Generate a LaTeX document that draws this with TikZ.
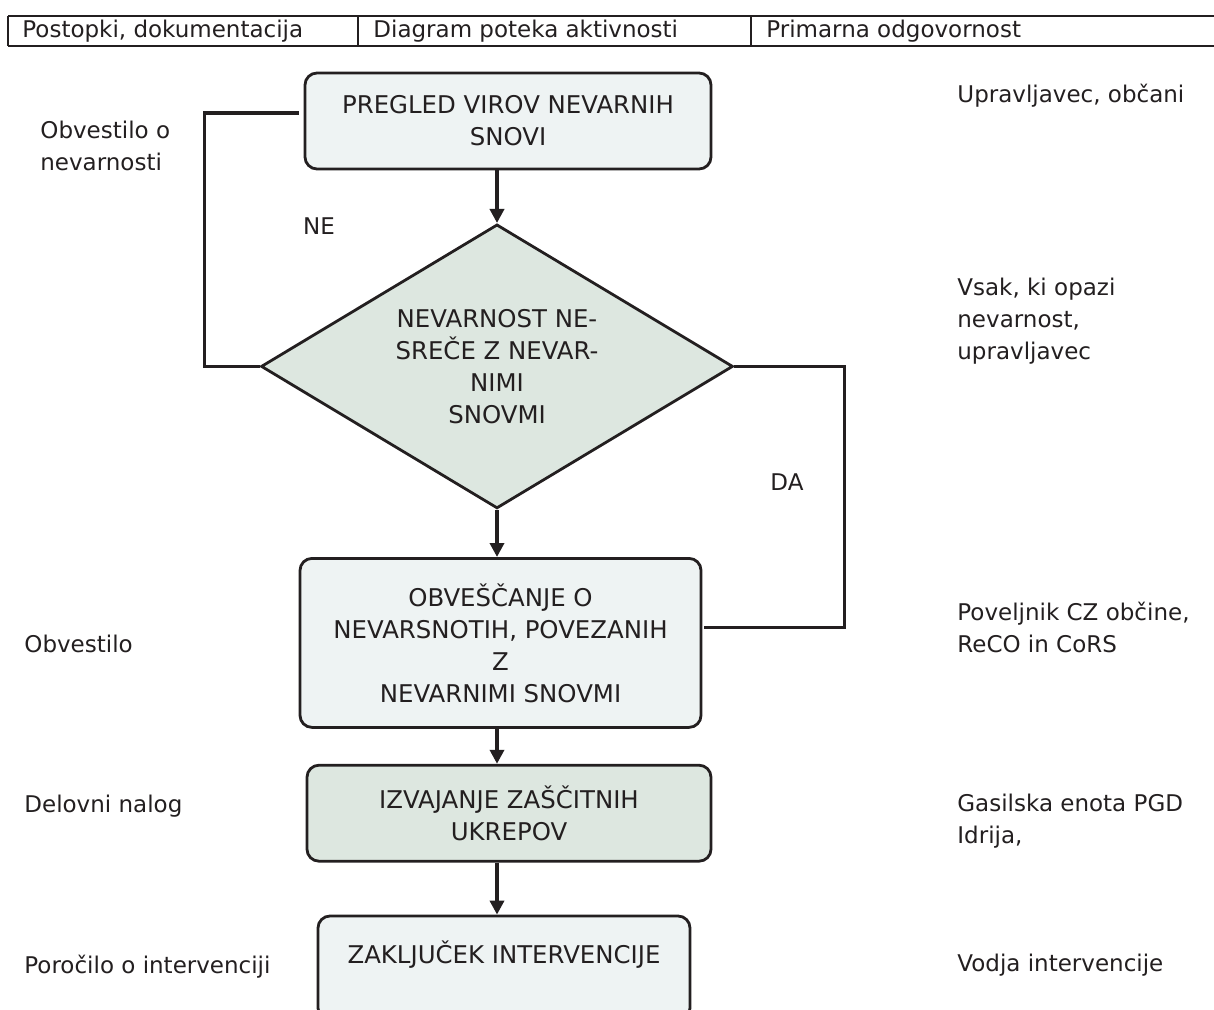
\documentclass[tikz,border=0pt]{standalone}
\usepackage{fontspec}
\setmainfont{DejaVu Sans}
\usepackage{tikz}
\usetikzlibrary{positioning}
\usetikzlibrary{arrows.meta}
\usetikzlibrary{shapes.geometric}

\definecolor{boxfill}{HTML}{EEF3F3}
\definecolor{greenfill}{HTML}{DDE7E0}
\definecolor{ink}{HTML}{231F20}

\begin{document}
\begin{tikzpicture}[
            x=0.5pt, y=-0.5pt,
            every node/.style={font=\fontsize{11.5}{16}\selectfont, text=ink},
            block/.style={
                draw=ink,
                line width=1.4pt,
                rounded corners=6pt,
                align=center,
                fill=boxfill,
                font=\fontsize{12.2}{16}\selectfont,
                minimum width=202pt,
                minimum height=48pt
            },
            decision/.style={
                diamond,
                draw=ink,
                line width=1.4pt,
                align=center,
                fill=greenfill,
                font=\fontsize{12.2}{16}\selectfont,
                inner sep=0pt,
                aspect=1.66,
                minimum width=236pt,
                minimum height=142pt
            },
            note/.style={anchor=west, align=left, inner sep=0pt},
            line/.style={draw=ink, line width=1.8pt},
            arrow/.style={line, -{Triangle[length=7pt,width=7pt]}}
        ]
        \useasboundingbox (0,0) rectangle (1214,1010);
        \clip (0,0) rectangle (1214,1010);

        % header
        \draw[ink, line width=0.8pt] (8,16) -- (1214,16);
        \draw[ink, line width=1.2pt] (8,46) -- (1214,46);
        \foreach \xx in {8,358,751}
            \draw[ink, line width=0.8pt] (\xx,16) -- (\xx,46);
        \node[note] (col1) at (22,31) {Postopki, dokumentacija};
        \node[note] (col2) at (373,31) {Diagram poteka aktivnosti};
        \node[note] (col3) at (766,31) {Primarna odgovornost};

        % flow
        \node[block, minimum width=203pt] (pregled) at (508,121)
            {PREGLED VIROV NEVARNIH\\
            SNOVI};

        \node[decision, below = 26.3pt of pregled, xshift=-5.5pt] (nevarnost)
            {NEVARNOST NE-\\
            SREČE Z NEVAR-\\
            NIMI\\
            SNOVMI};

        \node[block, below = 23.6pt of nevarnost, xshift=1.75pt,
              minimum width=200.5pt, minimum height=84.5pt] (obvescanje)
            {OBVEŠČANJE O\\
            NEVARSNOTIH, POVEZANIH\\
            Z\\
            NEVARNIMI SNOVMI};

        \node[block, below = 17.5pt of obvescanje, xshift=4.25pt, fill=greenfill] (ukrepi)
            {IZVAJANJE ZAŠČITNIH\\
            UKREPOV};

        \node[block, below = 26pt of ukrepi, xshift=-2.5pt, minimum width=186pt,
              minimum height=52pt] (zakljucek)
            {ZAKLJUČEK INTERVENCIJE\\
            ~};

        \draw[arrow] (pregled.south -| nevarnost.north) -- (nevarnost.north);
        \draw[arrow] (nevarnost.south) -- (nevarnost.south |- obvescanje.north);
        \draw[arrow] (nevarnost.south |- obvescanje.south) -- (nevarnost.south |- ukrepi.north);
        \draw[arrow] (nevarnost.south |- ukrepi.south) -- (nevarnost.south |- zakljucek.north);

        % branches
        \draw[line] (nevarnost.west) -- ++(-55,0) |- ([xshift=-2.5pt, yshift=4pt]pregled.west);
        \draw[line] (nevarnost.east) -- ++(110,0) |- ([xshift=1pt, yshift=7.75pt]obvescanje.east);
        \node (ne) at (319,226) {NE};
        \node (da) at (787,482) {DA};

        % documents
        \node[note] (dok1) at (40,146) {Obvestilo o\\nevarnosti};
        \node[note] (dok2) at (24,644) {Obvestilo};
        \node[note] (dok3) at (24,806) {Delovni nalog};
        \node[note] (dok4) at (24,967) {Poročilo o intervenciji};

        % responsibility
        \node[note] (odg1) at (957,96) {Upravljavec, občani};
        \node[note] (odg2) at (957,321) {Vsak, ki opazi\\nevarnost,\\upravljavec};
        \node[note] (odg3) at (957,627) {Poveljnik CZ občine,\\ReCO in CoRS};
        \node[note] (odg4) at (957,821) {Gasilska enota PGD\\Idrija,};
        \node[note] (odg5) at (957,965) {Vodja intervencije};

    \end{tikzpicture}
\end{document}
